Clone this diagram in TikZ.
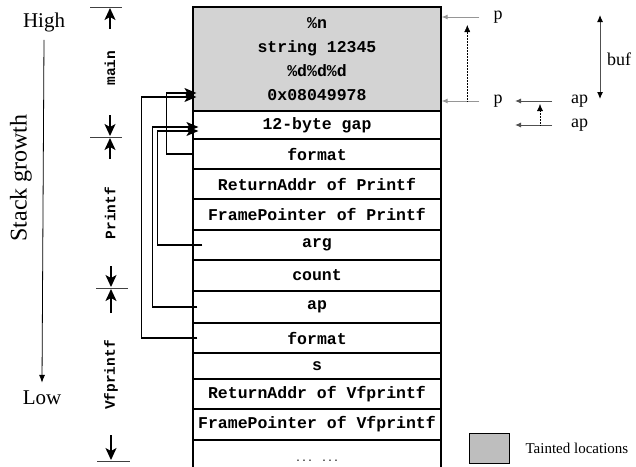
\documentclass[tikz,border=0pt]{standalone}
\usepackage{fontspec}
\setmainfont{Liberation Serif}
\newfontfamily\stackfont{Liberation Mono}
\usepackage{tikz}
\usetikzlibrary{positioning,arrows.meta,calc}
\definecolor{tainted}{RGB}{211,211,211}
\definecolor{taintkey}{RGB}{190,190,190}
\definecolor{pgris}{RGB}{150,150,150}
\definecolor{apgris}{RGB}{80,80,80}

\begin{document}
\begin{tikzpicture}[x=1pt, y=-1pt,
    cell/.style={draw, line width=1.2pt, minimum width=248pt, inner sep=0pt, align=center,
      font=\stackfont\bfseries\fontsize{16.5}{24}\selectfont},
    frame/.style={inner sep=0pt, rotate=90, font=\stackfont\bfseries\fontsize{14.5}{16}\selectfont},
    lbl/.style={inner sep=0pt, font=\fontsize{18}{20}\selectfont},
    ptr/.style={line width=1.1pt, -{Stealth[length=12pt, width=10pt, inset=3pt]}},
    dimarr/.style={line width=1.4pt, -{Stealth[length=12pt, width=11pt, inset=3pt]}},
    dimline/.style={line width=0.8pt, draw=black!75},
    gptr/.style={line width=1pt, draw=pgris, -{Latex[length=6pt, width=5pt]}},
    aptr/.style={line width=1pt, draw=apgris, -{Latex[length=6pt, width=5pt]}},
    dotptr/.style={line width=0.5pt, densely dotted, -{Latex[length=7pt, width=6pt]}}]
  \useasboundingbox (0,0) rectangle (636,466);

  \node[cell, fill=tainted, minimum height=104pt] (taint) at (317,59)
    {\%n\\string 12345\\\%d\%d\%d\\0x08049978};
  \foreach \name/\top/\bot/\txt in {gap/111/139/12-byte gap, fmtp/139/169/format,
      retp/169/199/ReturnAddr of Printf, fpp/199/230/FramePointer of Printf,
      arg/230/260/arg, count/260/291/count, ap/291/323/ap, fmtv/323/353/format,
      s/353/379/s, retv/379/409/ReturnAddr of Vfprintf,
      fpv/409/440/FramePointer of Vfprintf, more/440/474/{}} {
    \node[cell, minimum height={(\bot-\top)*1pt}] (\name) at (317,{(\top+\bot)/2}) {\txt};
  }
  \node[inner sep=0pt, font=\stackfont\fontsize{10}{12}\selectfont] (dots) at (317,461) {... ...};

  \draw[ptr] ([xshift=5pt]fmtv.west) -- ++(-56,0) |- ([xshift=4pt, yshift=-38pt]taint.west);
  \draw[ptr] (fmtp.west) -- ++(-26,0) |- ([xshift=4pt, yshift=-34pt]taint.west);
  \draw[ptr] ([xshift=5pt]ap.west) -- ++(-45,0) |- ([xshift=6pt, yshift=-2pt]gap.west);
  \draw[ptr] ([xshift=10pt]arg.west) -- ++(-45,0) |- ([xshift=6pt, yshift=-6pt]gap.west);

  \node[lbl, font=\fontsize{21}{24}\selectfont] (high) at (44,22) {High};
  \node[lbl, font=\fontsize{21}{24}\selectfont] (low) at (42,398) {Low};
  \node[lbl, rotate=90, font=\fontsize{24}{28}\selectfont] (growth) at (21,178) {Stack growth};
  \draw[line width=0.8pt, -{Latex[length=8pt, width=6pt]}] ([yshift=-8pt]high.south) -- ([yshift=8pt]low.north);

  \draw[dimline] (90,7) -- (122,7);
  \draw[dimarr] (110,29) -- (110,8);
  \node[frame] (main) at (110,68) {main};
  \draw[dimline] (90,137) -- (122,137);
  \draw[dimarr] (110,115) -- (110,136);
  \draw[dimarr] (110,159) -- (110,138);
  \node[frame] (printf) at (110,213) {Printf};
  \draw[dimline] (96,288) -- (128,288);
  \draw[dimarr] (111,266) -- (111,287);
  \draw[dimarr] (111,313) -- (111,289);
  \node[frame] (vfprintf) at (111,375) {Vfprintf};
  \draw[dimline] (97,461) -- (130,461);
  \draw[dimarr] (111,435) -- (111,460);

  \node[lbl] (ptop) at (498,17) {p};
  \node[lbl] (pbot) at (498,101) {p};
  \draw[gptr] ([xshift=-14pt]ptop.west) -- (taint.east |- ptop.west);
  \draw[gptr] ([xshift=-14pt]pbot.west) -- (taint.east |- pbot.west);
  \coordinate (pmove) at ($(pbot.west)+(-26,0)$);
  \draw[dotptr] (pmove) -- ($(ptop.west)+(-26,8)$);

  \node[lbl, anchor=west] (aptop) at (571,101) {ap};
  \node[lbl, anchor=west] (apbot) at (571,125) {ap};
  \draw[aptr] ([xshift=-19pt]aptop.west) -- ++(-37,0);
  \draw[aptr] ([xshift=-19pt]apbot.west) -- ++(-37,0);
  \draw[dotptr] ([xshift=-31pt]apbot.west) -- ([xshift=-31pt, yshift=-3pt]aptop.west);

  \coordinate (bufhi) at (600,15);
  \coordinate (buflo) at (600,99);
  \draw[line width=1pt, draw=apgris, {Latex[length=7pt, width=6pt, color=black]}-{Latex[length=7pt, width=6pt, color=black]}] (bufhi) -- (buflo);
  \node[lbl, anchor=west] (buf) at (607,59) {buf};

  \node[draw, line width=0.8pt, fill=taintkey, minimum width=40pt, minimum height=30pt] (key) at (489,448) {};
  \node[inner sep=0pt, anchor=west, font=\fontsize{15}{18}\selectfont, right=16pt of key] (keytxt) {Tainted locations};
\end{tikzpicture}
\end{document}
